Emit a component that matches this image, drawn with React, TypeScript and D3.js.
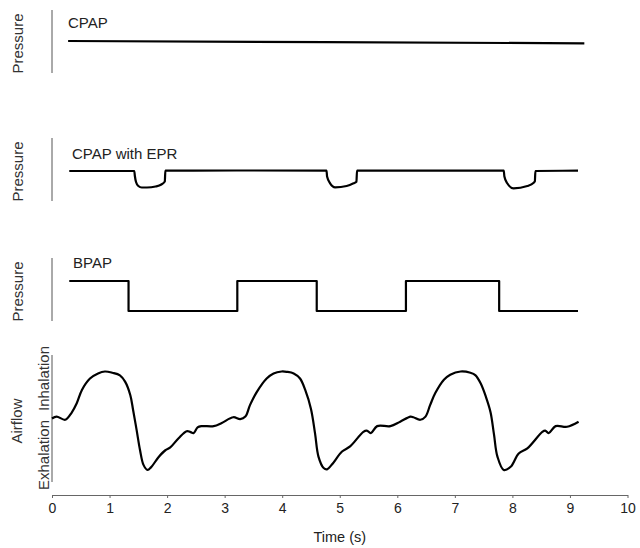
import { useEffect, useRef } from 'react';
import * as d3 from 'd3';

type Pt = [number, number];

// time axis ticks (s)
const timeTicks = [0, 1, 2, 3, 4, 5, 6, 7, 8, 9, 10];

// pressure traces, [time s, pressure units]
const cpap: Pt[] = [[0.28, 8.13], [4.76, 7.83], [9.25, 7.54]];

const cpapEpr: Pt[] = [
  [0.3, 7.62], [1.43, 7.62], [1.44, 6.35], [1.46, 4.83], [1.5, 3.81], [1.56, 3.43],
  [1.65, 3.43], [1.8, 3.68], [1.9, 4.19], [1.96, 4.95], [1.97, 7.7], [3.2, 7.75],
  [4.77, 7.7], [4.78, 6.2], [4.83, 4.55], [4.92, 3.47], [5.12, 3.81], [5.24, 4.5],
  [5.29, 4.9], [5.3, 7.7], [7.85, 7.7], [7.86, 6.3], [7.91, 4.5], [8.02, 3.22],
  [8.26, 3.81], [8.37, 4.65], [8.39, 5.0], [8.4, 7.62], [9.14, 7.7],
];

const bpap: Pt[] = [
  [0.3, 10.16], [1.33, 2.54], [3.22, 10.16], [4.6, 2.54], [6.15, 10.16], [7.77, 2.54], [9.14, 2.54],
];

// airflow, [time s, flow (inhalation +)]
const airflow: Pt[] = [
  [0.0, 0.0], [0.08, 0.03], [0.23, -0.02], [0.34, 0.09], [0.43, 0.24], [0.52, 0.45],
  [0.66, 0.63], [0.8, 0.71], [0.92, 0.74], [1.05, 0.72], [1.18, 0.68], [1.27, 0.58],
  [1.36, 0.37], [1.41, 0.13], [1.47, -0.18], [1.53, -0.5], [1.59, -0.73], [1.66, -0.81],
  [1.72, -0.77], [1.85, -0.61], [1.97, -0.5], [2.05, -0.46], [2.2, -0.31], [2.34, -0.2],
  [2.4, -0.21], [2.46, -0.23], [2.53, -0.14], [2.6, -0.12], [2.81, -0.12], [2.95, -0.07],
  [3.15, 0.02], [3.27, -0.01], [3.36, 0.03], [3.44, 0.21], [3.56, 0.42], [3.73, 0.63],
  [3.85, 0.71], [3.99, 0.74], [4.08, 0.735], [4.2, 0.71], [4.31, 0.63], [4.4, 0.45],
  [4.5, 0.15], [4.57, -0.23], [4.63, -0.6], [4.72, -0.78], [4.78, -0.8], [4.86, -0.73],
  [5.04, -0.52], [5.18, -0.44], [5.41, -0.21], [5.47, -0.19], [5.54, -0.23], [5.65, -0.12],
  [5.88, -0.12], [6.05, -0.05], [6.23, 0.03], [6.28, 0.02], [6.4, -0.02], [6.49, 0.03],
  [6.57, 0.21], [6.66, 0.4], [6.81, 0.61], [6.92, 0.69], [7.1, 0.74], [7.27, 0.72],
  [7.36, 0.68], [7.45, 0.55], [7.54, 0.34], [7.62, 0.1], [7.68, -0.25], [7.74, -0.6],
  [7.85, -0.81], [7.97, -0.76], [8.11, -0.55], [8.26, -0.47], [8.52, -0.21], [8.57, -0.19],
  [8.63, -0.23], [8.75, -0.12], [8.95, -0.13], [9.15, -0.05],
];

const panelTitles = ['CPAP', 'CPAP with EPR', 'BPAP'];

export default function App() {
  const svgRef = useRef<SVGSVGElement>(null);

  useEffect(() => {
    const svg = d3.select(svgRef.current);
    svg.selectAll('*').remove();

    const W = 640, H = 548;
    const font = '"Liberation Sans", Arial, Helvetica, sans-serif';
    svg.attr('viewBox', `0 0 ${W} ${H}`).attr('font-family', font);

    const x = d3.scaleLinear().domain([0, 10]).range([52, 627.5]);

    // pressure panels
    const panels = [
      { top: 10, data: cpap, curve: d3.curveLinear, titleY: 28, titleX: 68 },
      { top: 138, data: cpapEpr, curve: d3.curveMonotoneX, titleY: 158.5, titleX: 72 },
      { top: 258, data: bpap, curve: d3.curveStepAfter, titleY: 268, titleX: 73 },
    ];
    const panelH = 63;

    panels.forEach((p, i) => {
      const y = d3.scaleLinear().domain([0, 16]).range([p.top + panelH, p.top]);

      svg.append('line')
        .attr('x1', 52).attr('x2', 52)
        .attr('y1', p.top).attr('y2', p.top + panelH)
        .attr('stroke', '#555').attr('stroke-width', 1);

      svg.append('text')
        .attr('transform', `translate(23,${p.top + panelH / 2 + 2}) rotate(-90)`)
        .attr('text-anchor', 'middle')
        .attr('font-size', 15).attr('fill', '#333')
        .text('Pressure');

      svg.append('text')
        .attr('x', p.titleX).attr('y', p.titleY)
        .attr('font-size', 15).attr('fill', '#222')
        .text(panelTitles[i]);

      const line = d3.line<Pt>().x(d => x(d[0])).y(d => y(d[1])).curve(p.curve);
      svg.append('path')
        .datum(p.data)
        .attr('d', line)
        .attr('fill', 'none')
        .attr('stroke', '#000')
        .attr('stroke-width', 2.2)
        .attr('stroke-linejoin', 'round');
    });

    // airflow panel
    const yFlow = d3.scaleLinear().domain([-1, 1]).range([482, 355]);

    svg.append('line')
      .attr('x1', 52).attr('x2', 52)
      .attr('y1', 355).attr('y2', 482)
      .attr('stroke', '#555').attr('stroke-width', 1);

    svg.append('text')
      .attr('transform', 'translate(22,421) rotate(-90)')
      .attr('text-anchor', 'middle')
      .attr('font-size', 15).attr('fill', '#333')
      .text('Airflow');
    svg.append('text')
      .attr('transform', 'translate(49,411) rotate(-90)')
      .attr('text-anchor', 'start')
      .attr('font-size', 15).attr('fill', '#333')
      .text('Inhalation');
    svg.append('text')
      .attr('transform', 'translate(49,490) rotate(-90)')
      .attr('text-anchor', 'start')
      .attr('font-size', 15).attr('fill', '#333')
      .text('Exhalation');

    const flowLine = d3.line<Pt>()
      .x(d => x(d[0])).y(d => yFlow(d[1]))
      .curve(d3.curveCatmullRom.alpha(0.5));
    svg.append('path')
      .datum(airflow)
      .attr('d', flowLine)
      .attr('fill', 'none')
      .attr('stroke', '#000')
      .attr('stroke-width', 2.2)
      .attr('stroke-linejoin', 'round');

    // time axis
    const xAxis = d3.axisBottom(x).tickValues(timeTicks).tickSizeInner(3).tickSizeOuter(0).tickPadding(5);
    svg.append('g')
      .attr('transform', 'translate(0,495)')
      .call(xAxis)
      .call(ax => ax.select('.domain').attr('stroke', '#666'))
      .call(ax => ax.selectAll('.tick line').attr('stroke', '#666'))
      .call(ax => ax.selectAll('text')
        .attr('font-size', 14).attr('fill', '#222').attr('font-family', font));

    svg.append('text')
      .attr('x', x(5)).attr('y', 542)
      .attr('text-anchor', 'middle')
      .attr('font-size', 14.5).attr('fill', '#222')
      .text('Time (s)');
  }, []);

  return (
    <svg
      ref={svgRef}
      width={640}
      height={548}
      style={{ position: 'absolute', left: 0, top: 0, background: '#fff' }}
      role="img"
      aria-label="CPAP, CPAP with EPR and BPAP pressure with airflow over time"
    />
  );
}
